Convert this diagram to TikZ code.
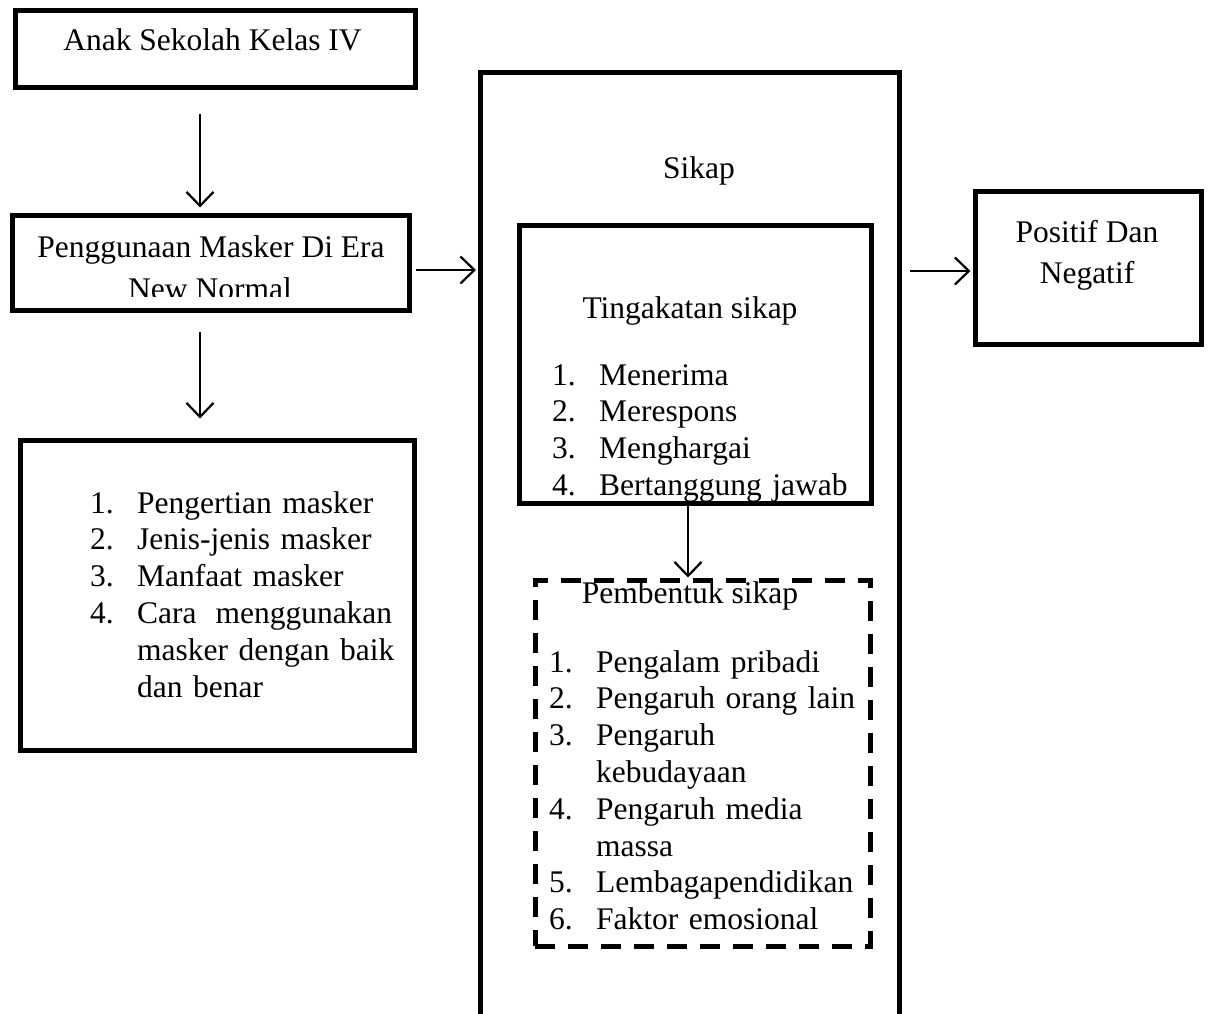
\documentclass[tikz,border=0pt]{standalone}
\usepackage{fontspec}
\setmainfont{Liberation Serif}
\usetikzlibrary{arrows.meta}
\newcommand\itm[1]{\makebox[47pt][l]{#1}}
\newcommand\cnt{\hspace*{47pt}}
\begin{document}
\begin{tikzpicture}[x=1pt,y=-1pt,
  box/.style={draw,line width=5pt,rectangle,inner sep=0pt},
  dbox/.style={draw,line width=5pt,rectangle,inner sep=0pt,dash pattern=on 20pt off 13pt},
  txt/.style={inner sep=0pt,font=\fontsize{31.5}{36.8}\selectfont},
  lst/.style={txt,anchor=base west,text width=340pt,align=left},
  arr/.style={line width=2.2pt,-{Straight Barb[length=14pt,width=27pt,line width=2.2pt]}}]
\useasboundingbox (0,0) rectangle (1208,1013);
\clip (0,0) rectangle (1208,1013);
\fill[white] (0,0) rectangle (1208,1013);

% boxes
\node[box,minimum width=400pt,minimum height=77pt] (b1) at (215,48.5) {};
\node[box,minimum width=397pt,minimum height=95pt] (b2) at (210.5,262.5) {};
\node[box,minimum width=394pt,minimum height=310pt] (b3) at (217,595) {};
\node[box,minimum width=419pt,minimum height=1030pt] (sikap) at (690,587.5) {};
\node[box,minimum width=352pt,minimum height=278pt] (tk) at (695,364) {};
\node[dbox,minimum width=335pt,minimum height=366pt] (pb) at (702.5,763) {};
\node[box,minimum width=226pt,minimum height=153pt] (pos) at (1088,267.5) {};

% texts
\node[txt,anchor=base] (t1) at (212.5,50) {Anak Sekolah Kelas IV};
\node[txt,anchor=base] (t2a) at (211,257) {Penggunaan Masker Di Era};
\begin{scope}
\clip (0,200) rectangle (420,296.7);
\node[txt,anchor=base] (t2b) at (210,299) {New Normal};
\end{scope}
\node[lst] (l3) at (90,513) {\itm{1.}Pengertian masker\\
\itm{2.}Jenis-jenis masker\\
\itm{3.}Manfaat masker\\
\itm{4.}\hbox to 255pt{Cara\hfill menggunakan}\\
\cnt masker dengan baik\\
\cnt dan benar};
\node[txt,anchor=base] (ts) at (699,178) {Sikap};
\node[txt,anchor=base] (ttk) at (690,318) {Tingakatan sikap};
\node[lst] (ltk) at (552,385) {\itm{1.}Menerima\\
\itm{2.}Merespons\\
\itm{3.}Menghargai\\
\itm{4.}Bertanggung jawab};
\node[txt,anchor=base] (tpb) at (690,603) {Pembentuk sikap};
\node[lst] (lpb) at (549,672) {\itm{1.}Pengalam pribadi\\
\itm{2.}Pengaruh orang lain\\
\itm{3.}Pengaruh\\
\cnt kebudayaan\\
\itm{4.}Pengaruh media\\
\cnt massa\\
\itm{5.}Lembagapendidikan\\
\itm{6.}Faktor emosional};
\node[txt,anchor=base] (tpa) at (1087,242) {Positif Dan};
\node[txt,anchor=base] (tpn) at (1087,283) {Negatif};

% connector positions
\coordinate (c1) at (200,0);
\coordinate (c3) at (0,270);
\coordinate (c4) at (688,0);
\coordinate (c5) at (0,271);

\draw[arr,shorten <=24pt,shorten >=5pt] (b1.south -| c1) -- (b2.north -| c1);
\draw[arr,shorten <=19pt,shorten >=19pt] (b2.south -| c1) -- (b3.north -| c1);
\draw[arr,shorten <=4pt,shorten >=2pt] (b2.east |- c3) -- (sikap.west |- c3);
\draw[arr] (tk.south -| c4) -- (pb.north -| c4);
\draw[arr,shorten <=8pt,shorten >=2pt] (sikap.east |- c5) -- (pos.west |- c5);
\end{tikzpicture}
\end{document}
